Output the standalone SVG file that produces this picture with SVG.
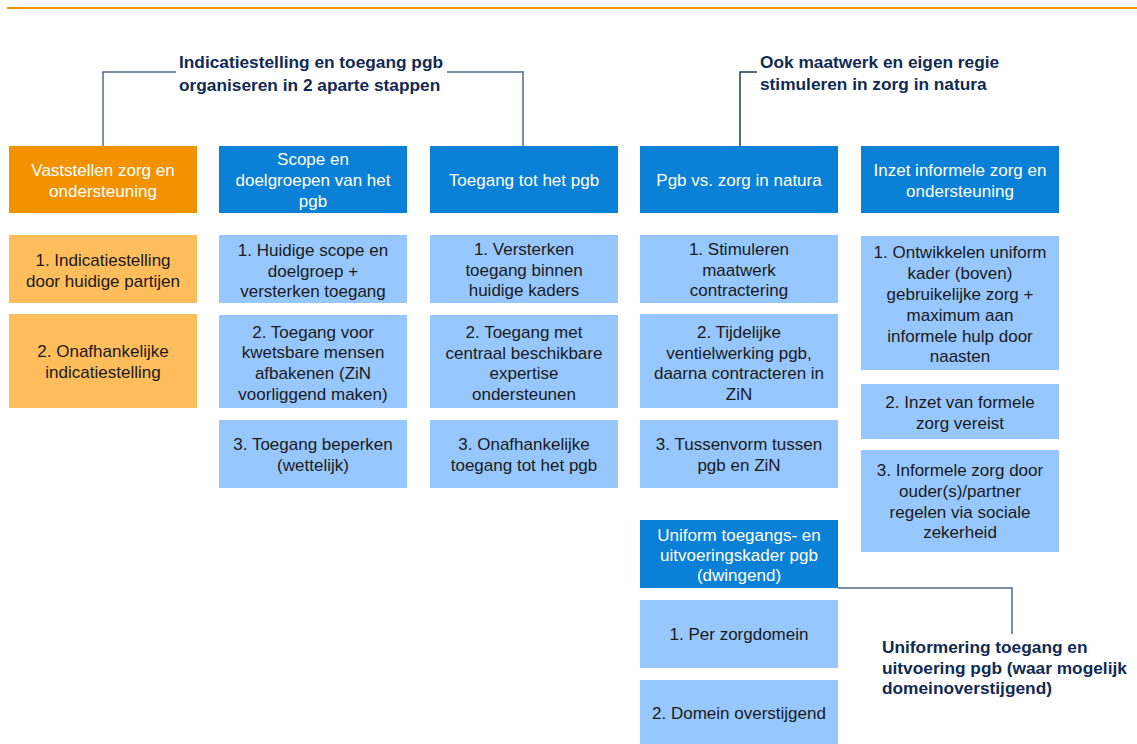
<svg xmlns="http://www.w3.org/2000/svg" width="1137" height="744" viewBox="0 0 1137 744">
<style>
text{font-family:"Liberation Sans",Arial,sans-serif;font-size:17px;text-anchor:middle}
.hd{fill:#0A80D6}
.ho{fill:#F39200}
.sb{fill:#97C7FF}
.so{fill:#FFBD5C}
.wt{fill:#FFFFFF}
.bt{fill:#1A1A1A}
.tt{fill:#102A55;font-weight:bold;text-anchor:start;font-size:17.3px}
.ln{fill:none;stroke:#56698A;stroke-width:1.5}
.ln2{fill:none;stroke:#1E3A63;stroke-width:1.5}
</style>
<rect width="1137" height="744" fill="#FFFFFF"/>
<line x1="7" y1="8" x2="1137" y2="8" stroke="#F39200" stroke-width="2"/>

<g id="connectors">
<polyline class="ln" points="103,146 103,72 176,72"/>
<polyline class="ln" points="447,72 523,72 523,146"/>
<polyline class="ln2" points="740,146 740,72 757,72"/>
<polyline class="ln" points="838,588 1012,588 1012,634"/>
</g>

<g id="title1">
<text class="tt" x="179" y="68">Indicatiestelling en toegang pgb</text>
<text class="tt" x="179" y="91">organiseren in 2 aparte stappen</text>
</g>
<g id="title2">
<text class="tt" x="760" y="68">Ook maatwerk en eigen regie</text>
<text class="tt" x="760" y="90">stimuleren in zorg in natura</text>
</g>
<g id="title3">
<text class="tt" x="882" y="653">Uniformering toegang en</text>
<text class="tt" x="882" y="674">uitvoering pgb (waar mogelijk</text>
<text class="tt" x="882" y="694">domeinoverstijgend)</text>
</g>

<!-- Column 1 -->
<g id="h1"><rect class="ho" x="9" y="146" width="188" height="67"/>
<text class="wt" x="103" y="175.5">Vaststellen zorg en</text><text class="wt" x="103" y="196.5">ondersteuning</text></g>
<g id="c1a"><rect class="so" x="9" y="235" width="188" height="68"/>
<text class="bt" x="103" y="266">1. Indicatiestelling</text><text class="bt" x="103" y="287">door huidige partijen</text></g>
<g id="c1b"><rect class="so" x="9" y="314" width="188" height="94"/>
<text class="bt" x="103" y="357">2. Onafhankelijke</text><text class="bt" x="103" y="378">indicatiestelling</text></g>

<!-- Column 2 -->
<g id="h2"><rect class="hd" x="219" y="146" width="188" height="67"/>
<text class="wt" x="313" y="164.5">Scope en</text><text class="wt" x="313" y="185.5">doelgroepen van het</text><text class="wt" x="313" y="206.5">pgb</text></g>
<g id="c2a"><rect class="sb" x="219" y="235" width="188" height="68"/>
<text class="bt" x="313" y="256">1. Huidige scope en</text><text class="bt" x="313" y="276.5">doelgroep +</text><text class="bt" x="313" y="297">versterken toegang</text></g>
<g id="c2b"><rect class="sb" x="219" y="315" width="188" height="93"/>
<text class="bt" x="313" y="337.5">2. Toegang voor</text><text class="bt" x="313" y="358">kwetsbare mensen</text><text class="bt" x="313" y="379">afbakenen (ZiN</text><text class="bt" x="313" y="399.5">voorliggend maken)</text></g>
<g id="c2c"><rect class="sb" x="219" y="420" width="188" height="68"/>
<text class="bt" x="313" y="450">3. Toegang beperken</text><text class="bt" x="313" y="471">(wettelijk)</text></g>

<!-- Column 3 -->
<g id="h3"><rect class="hd" x="430" y="146" width="188" height="67"/>
<text class="wt" x="524" y="185.5">Toegang tot het pgb</text></g>
<g id="c3a"><rect class="sb" x="430" y="235" width="188" height="68"/>
<text class="bt" x="524" y="255">1. Versterken</text><text class="bt" x="524" y="275.5">toegang binnen</text><text class="bt" x="524" y="296">huidige kaders</text></g>
<g id="c3b"><rect class="sb" x="430" y="315" width="188" height="93"/>
<text class="bt" x="524" y="338">2. Toegang met</text><text class="bt" x="524" y="358.5">centraal beschikbare</text><text class="bt" x="524" y="379">expertise</text><text class="bt" x="524" y="400">ondersteunen</text></g>
<g id="c3c"><rect class="sb" x="430" y="420" width="188" height="68"/>
<text class="bt" x="524" y="450">3. Onafhankelijke</text><text class="bt" x="524" y="471">toegang tot het pgb</text></g>

<!-- Column 4 -->
<g id="h4"><rect class="hd" x="640" y="146" width="198" height="67"/>
<text class="wt" x="739" y="185.5">Pgb vs. zorg in natura</text></g>
<g id="c4a"><rect class="sb" x="640" y="235" width="198" height="68"/>
<text class="bt" x="739" y="255">1. Stimuleren</text><text class="bt" x="739" y="275.5">maatwerk</text><text class="bt" x="739" y="296">contractering</text></g>
<g id="c4b"><rect class="sb" x="640" y="314" width="198" height="94"/>
<text class="bt" x="739" y="338">2. Tijdelijke</text><text class="bt" x="739" y="358.5">ventielwerking pgb,</text><text class="bt" x="739" y="379">daarna contracteren in</text><text class="bt" x="739" y="400">ZiN</text></g>
<g id="c4c"><rect class="sb" x="640" y="420" width="198" height="68"/>
<text class="bt" x="739" y="450">3. Tussenvorm tussen</text><text class="bt" x="739" y="471">pgb en ZiN</text></g>
<g id="h6"><rect class="hd" x="640" y="520" width="198" height="68"/>
<text class="wt" x="739" y="541">Uniform toegangs- en</text><text class="wt" x="739" y="561">uitvoeringskader pgb</text><text class="wt" x="739" y="581">(dwingend)</text></g>
<g id="c6a"><rect class="sb" x="640" y="600" width="198" height="68"/>
<text class="bt" x="739" y="640">1. Per zorgdomein</text></g>
<g id="c6b"><rect class="sb" x="640" y="680" width="198" height="64"/>
<text class="bt" x="739" y="719">2. Domein overstijgend</text></g>

<!-- Column 5 -->
<g id="h5"><rect class="hd" x="861" y="146" width="198" height="67"/>
<text class="wt" x="960" y="175.5">Inzet informele zorg en</text><text class="wt" x="960" y="196.5">ondersteuning</text></g>
<g id="c5a"><rect class="sb" x="861" y="236" width="198" height="134"/>
<text class="bt" x="960" y="258">1. Ontwikkelen uniform</text><text class="bt" x="960" y="279">kader (boven)</text><text class="bt" x="960" y="300">gebruikelijke zorg +</text><text class="bt" x="960" y="321">maximum aan</text><text class="bt" x="960" y="342">informele hulp door</text><text class="bt" x="960" y="362">naasten</text></g>
<g id="c5b"><rect class="sb" x="861" y="384" width="198" height="55"/>
<text class="bt" x="960" y="408">2. Inzet van formele</text><text class="bt" x="960" y="429">zorg vereist</text></g>
<g id="c5c"><rect class="sb" x="861" y="450" width="198" height="102"/>
<text class="bt" x="960" y="476">3. Informele zorg door</text><text class="bt" x="960" y="497">ouder(s)/partner</text><text class="bt" x="960" y="518">regelen via sociale</text><text class="bt" x="960" y="538">zekerheid</text></g>
</svg>
